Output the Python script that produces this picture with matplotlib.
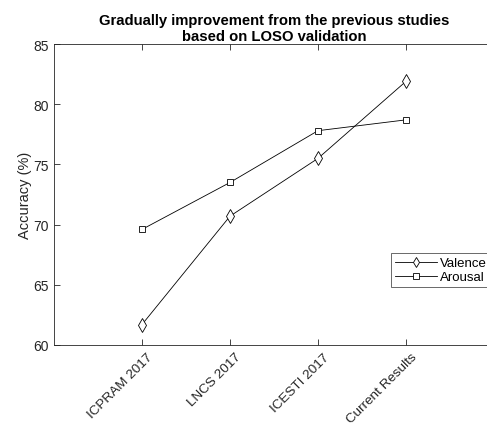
import numpy as np
import matplotlib.pyplot as plt
import matplotlib.transforms as mtransforms

# Donnees
etudes = ['ICPRAM 2017', 'LNCS 2017', 'ICESTI 2017', 'Current Results']
valence = [61.7, 70.7, 75.5, 81.9]
arousal = [69.6, 73.5, 77.8, 78.7]

plt.rcParams['font.family'] = ['Liberation Sans', 'DejaVu Sans']

fig = plt.figure(figsize=(4.87, 4.27), dpi=100)
ax = fig.add_axes([54/487, 81/427, 440/487, 301/427])

x = np.arange(1, len(etudes) + 1)
ax.plot(x, valence, color='black', lw=0.6, marker='d', markersize=7,
        markerfacecolor='white', markeredgecolor='black', markeredgewidth=0.6,
        label='Valence')
ax.plot(x, arousal, color='black', lw=0.6, marker='s', markersize=5,
        markerfacecolor='white', markeredgecolor='black', markeredgewidth=0.6,
        label='Arousal')

ax.set_xlim(0, 5)
ax.set_ylim(60, 85)
ax.set_xticks(x)
ax.set_xticklabels(etudes, rotation=45, ha='right', va='top', rotation_mode='anchor')
ax.set_yticks([60, 65, 70, 75, 80, 85])
ax.tick_params(direction='in', length=4, width=0.6, colors='#262626',
               labelsize=10, top=True, right=True, pad=4)
ax.tick_params(axis='x', pad=4, labelsize=9.7)
decal = mtransforms.ScaledTranslation(5/100, 0, fig.dpi_scale_trans)
for lab in ax.get_xticklabels():
    lab.set_transform(lab.get_transform() + decal)
for s in ax.spines.values():
    s.set_color('#262626')
    s.set_linewidth(0.6)

ax.set_ylabel('Accuracy (%)', fontsize=10.5, color='#262626', labelpad=1)
ax.set_title('Gradually improvement from the previous studies\nbased on LOSO validation',
             fontsize=10.7, fontweight='bold', color='black', pad=3, linespacing=1.15)

leg = ax.legend(loc='upper left', bbox_to_anchor=(391/487, 1 - 254/427),
                bbox_transform=fig.transFigure, fontsize=9.5, frameon=True,
                fancybox=False, borderpad=0.3, handlelength=3.2,
                handletextpad=0.2, labelspacing=0.15, borderaxespad=0,
                markerscale=0.8)
leg.get_frame().set_edgecolor('#262626')
leg.get_frame().set_linewidth(0.6)

plt.savefig('out.png', dpi=100)
